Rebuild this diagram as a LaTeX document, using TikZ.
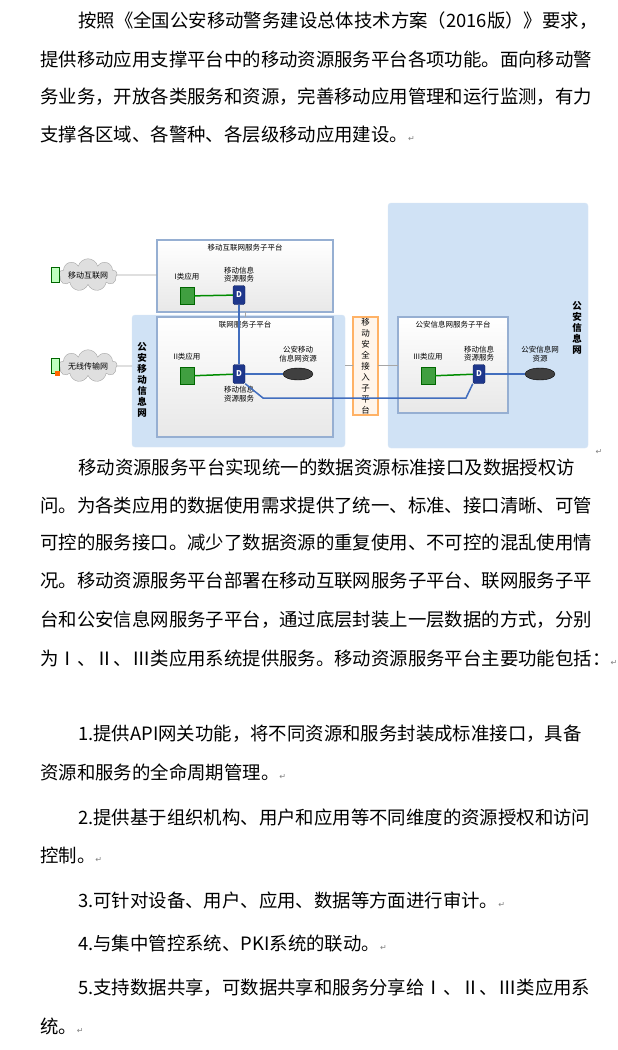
\documentclass[tikz,border=0pt]{standalone}
\usepackage{fontspec}
\setmainfont{Noto Sans CJK SC}
\newfontfamily\symfont{DejaVu Sans}
\usetikzlibrary{positioning,shapes.geometric,shapes.symbols}
\definecolor{areablue}{RGB}{208,226,245}
\definecolor{linkblue}{RGB}{66,110,190}
\definecolor{srvblue}{RGB}{30,55,140}
\definecolor{boxedge}{RGB}{150,175,210}
\newcommand{\ret}{{\symfont\fontsize{8}{8}\selectfont\color{gray}↵}}
\tikzset{
  line/.style={anchor=west,inner sep=0pt,font=\fontsize{18.4}{20}\selectfont},
  lbl/.style={font=\fontsize{7.5}{8.5}\selectfont,align=center,inner sep=0.5pt},
  vlbl/.style={font=\bfseries\fontsize{9.5}{11}\selectfont,align=center,inner sep=0pt},
  subbox/.style={draw=boxedge,line width=1.2pt,top color=white,bottom color=gray!18},
  netarea/.style={fill=areablue,draw=areablue!80!white,rounded corners=3pt},
  app/.style={draw=green!40!black,fill=green!50!black!75,minimum width=14pt,minimum height=17pt,inner sep=0pt},
  srv/.style={draw=srvblue!70!black,fill=srvblue,rounded corners=1.5pt,minimum width=12pt,minimum height=19pt,
    inner sep=0pt,text=white,font=\bfseries\fontsize{8}{8}\selectfont},
  dev/.style={ellipse,draw=black,fill=black!75,minimum width=30pt,minimum height=12pt,inner sep=0pt},
  netcloud/.style={cloud,cloud puffs=9,aspect=3,draw=gray!70,fill=gray!25,inner sep=0pt,
    font=\fontsize{8}{9}\selectfont},
  term/.style={draw=green!40!black,fill=green!25,minimum width=8pt,minimum height=15pt,inner sep=0pt},
  gline/.style={draw=green!55!black,line width=1.5pt},
  bline/.style={draw=linkblue,line width=1.5pt},
  wline/.style={draw=gray!70,line width=0.7pt},
}
\begin{document}
\begin{tikzpicture}[x=1pt,y=-1pt]
\useasboundingbox (0,0) rectangle (618,1050);
\fill[white] (0,0) rectangle (618,1050);

% first paragraph
\node[line] (p1a) at (78,21)  {按照《全国公安移动警务建设总体技术方案（2016版）》要求，};
\node[line] (p1b) at (40,59)  {提供移动应用支撑平台中的移动资源服务平台各项功能。面向移动警};
\node[line] (p1c) at (40,97)  {务业务，开放各类服务和资源，完善移动应用管理和运行监测，有力};
\node[line] (p1d) at (40,135) {支撑各区域、各警种、各层级移动应用建设。\ret};

% network areas
\fill[netarea] (388,203) rectangle (588,448);
\node[vlbl] (gaxxw) at (577,328) {公\\安\\信\\息\\网};
\fill[netarea] (132,315) rectangle (345,447);
\node[vlbl] (gayd) at (142,380) {公\\安\\移\\动\\信\\息\\网};

% sub platforms
\draw[subbox] (157,240) rectangle (333,312);
\node[lbl] (t1) at (245,248) {移动互联网服务子平台};
\draw[subbox] (157,317) rectangle (333,437);
\node[lbl] (t2) at (245,325) {联网服务子平台};
\draw[subbox] (398,317) rectangle (508,413);
\node[lbl] (t3) at (453,325) {公安信息网服务子平台};
\draw[draw=orange!60,line width=1.2pt,fill=orange!8] (353,317) rectangle (378,415);
\node[lbl,font=\fontsize{8.5}{11}\selectfont] (ajr) at (365.5,366) {移\\动\\安\\全\\接\\入\\子\\平\\台};

% top platform
\node[app] (appA) at (187,296) {};
\node[lbl,above=6pt of appA] {I类应用};
\node[srv] (srvA) at (239,295) {D};
\node[lbl,above=2pt of srvA] {移动信息\\资源服务};
% middle platform
\node[app] (appB) at (187,376) {};
\node[lbl,above=6pt of appB] {II类应用};
\node[srv] (srvB) at (239,374) {D};
\node[lbl,below=2pt of srvB] {移动信息\\资源服务};
\node[dev] (devB) at (298,374) {};
\node[lbl,above=5pt of devB] {公安移动\\信息网资源};
% right platform
\node[app] (appC) at (428,376) {};
\node[lbl,above=6pt of appC] {III类应用};
\node[srv] (srvC) at (479,374) {D};
\node[lbl,above=2pt of srvC] {移动信息\\资源服务};
\node[dev] (devC) at (540,374) {};
\node[lbl,above=5pt of devC] {公安信息网\\资源};

% access networks
\node[netcloud] (yd) at (88,275) {移动互联网};
\node[term,left=0pt of yd] (termA) {};
\node[netcloud] (wx) at (88,366) {无线传输网};
\node[term,left=0pt of wx] (termB) {};
\node[fill=orange!80!red,minimum size=5pt,inner sep=0pt,below right=-3pt and -4pt of termB] (lock) {};

% connectors
\draw[wline] (yd.east) -- (157,275);
\draw[wline] (wx.east) -- (132,366);
\draw[wline] (345,365) -- (353,365);
\draw[wline] (378,365) -- (398,365);
\draw[wline] (245,312) -- (245,317);
\draw[gline] (appA) -- (srvA);
\draw[gline] (appB) -- (srvB);
\draw[gline] (appC) -- (srvC);
\draw[bline] (srvA) -- (srvB);
\draw[bline] (srvB) -- (devB);
\draw[bline] (srvC) -- (devC);
\draw[bline] (srvB.south east) -- (263,398) -- (466,398) -- (srvC.south west);
\node[anchor=west] at (592,452) {\ret};

% second paragraph
\node[line] (p2a) at (78,467) {移动资源服务平台实现统一的数据资源标准接口及数据授权访};
\node[line] (p2b) at (40,505) {问。为各类应用的数据使用需求提供了统一、标准、接口清晰、可管};
\node[line] (p2c) at (40,543) {可控的服务接口。减少了数据资源的重复使用、不可控的混乱使用情};
\node[line] (p2d) at (40,581) {况。移动资源服务平台部署在移动互联网服务子平台、联网服务子平};
\node[line] (p2e) at (40,620) {台和公安信息网服务子平台，通过底层封装上一层数据的方式，分别};
\node[line] (p2f) at (40,658) {为Ⅰ、Ⅱ、Ⅲ类应用系统提供服务。移动资源服务平台主要功能包括：\ret};

% list
\node[line] (f1a) at (78,734) {1.提供API网关功能，将不同资源和服务封装成标准接口，具备};
\node[line] (f1b) at (40,772) {资源和服务的全命周期管理。\ret};
\node[line] (f2a) at (78,817) {2.提供基于组织机构、用户和应用等不同维度的资源授权和访问};
\node[line] (f2b) at (40,855) {控制。\ret};
\node[line] (f3)  at (78,900) {3.可针对设备、用户、应用、数据等方面进行审计。\ret};
\node[line] (f4)  at (78,944) {4.与集中管控系统、PKI系统的联动。\ret};
\node[line] (f5a) at (78,988) {5.支持数据共享，可数据共享和服务分享给Ⅰ、Ⅱ、Ⅲ类应用系};
\node[line] (f5b) at (40,1026) {统。\ret};
\end{tikzpicture}
\end{document}
